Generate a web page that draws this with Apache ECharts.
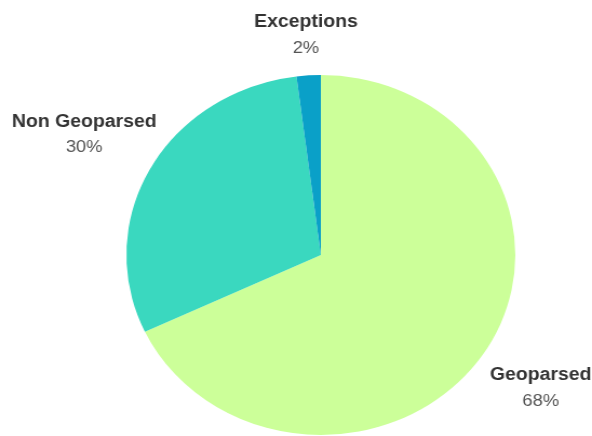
<!DOCTYPE html>
<html>
<head>
<meta charset="utf-8">
<script src="https://cdn.jsdelivr.net/npm/echarts@6/dist/echarts.min.js"></script>
<style>
  html, body { margin: 0; padding: 0; background: #fff; overflow: hidden; }
  #wrap { width: 592px; height: 436px; overflow: hidden; }
  #chart { width: 548px; height: 436px; transform: scaleX(1.0803); transform-origin: 0 0; }
</style>
</head>
<body>
<div id="wrap"><div id="chart"></div></div>
<script>
const categories = ['Geoparsed', 'Non Geoparsed', 'Exceptions'];
const values = [68, 30, 2];

const colors = ['#ccff99', '#3ad8bf', '#0aa0c8'];
const labelLengths = [61, 70, 40];

const chart = echarts.init(document.getElementById('chart'), null, { renderer: 'canvas' });
chart.setOption({
  animation: false,
  backgroundColor: '#ffffff',
  series: [{
    type: 'pie',
    center: [297, 255],
    radius: [0, 180],
    startAngle: 90,
    clockwise: true,
    avoidLabelOverlap: false,
    data: categories.map((c, i) => ({
      name: c,
      value: values[i],
      itemStyle: { color: colors[i] },
      labelLine: { length: labelLengths[i], length2: 0 }
    })),
    itemStyle: { borderWidth: 0 },
    label: {
      show: true,
      position: 'outside',
      alignTo: 'none',
      distanceToLabelLine: 0,
      formatter: p => '{n|' + p.name + '}\n{p|' + Math.round(p.percent) + '%}',
      rich: {
        n: { fontFamily: 'Liberation Sans', fontWeight: 'bold', fontSize: 18, color: '#333333', lineHeight: 26, align: 'center' },
        p: { fontFamily: 'Liberation Sans', fontSize: 17, color: '#555555', lineHeight: 26, align: 'center' }
      }
    },
    labelLine: { show: true, lineStyle: { opacity: 0, width: 0 } },
    labelLayout: function (params) {
      return params.dataIndex === 0 ? { align: 'center', dy: 4 } : { align: 'center' };
    },
    emphasis: { disabled: true }
  }]
});
</script>
</body>
</html>
